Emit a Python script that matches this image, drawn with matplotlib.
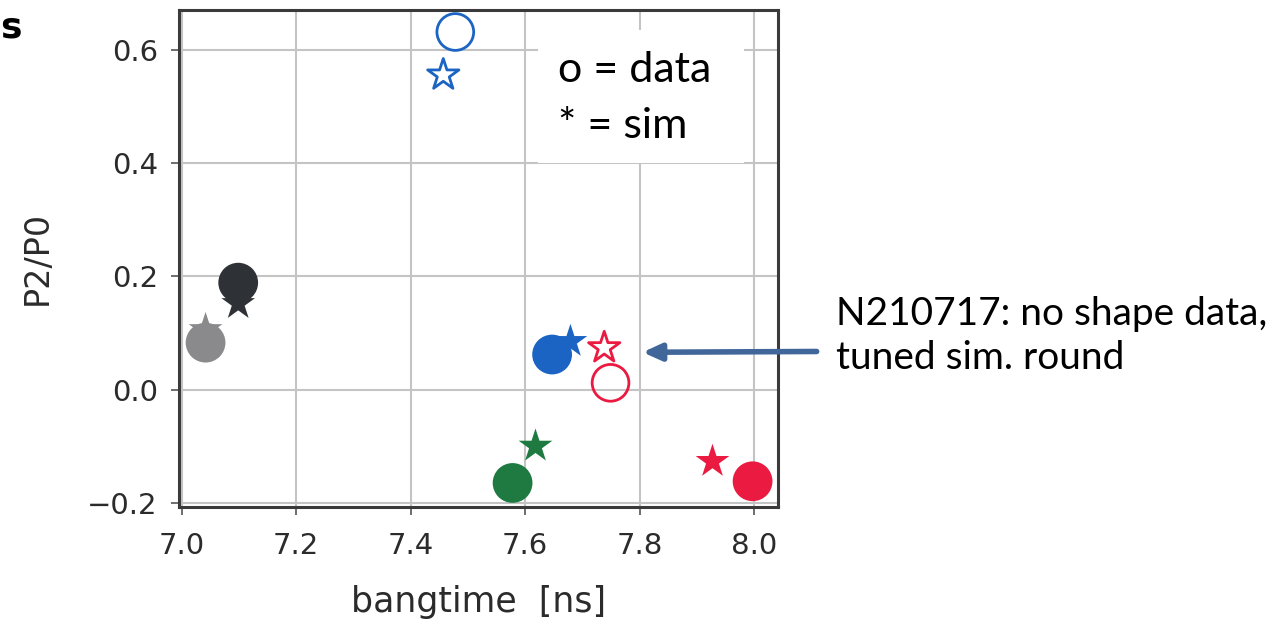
import numpy as np
import matplotlib
matplotlib.use("Agg")
import matplotlib.pyplot as plt
from matplotlib.patches import Rectangle

# shot colours
colors = ['#8a8a8c', '#2e3236', '#1c64c4', '#1e7a40', '#ea1a40']

# measured (o) and simulated (*) values per shot
bt_data = [7.042, 7.099, 7.647, 7.578, 7.997]
p2_data = [0.083, 0.189, 0.062, -0.165, -0.162]
bt_sim = [7.042, 7.099, 7.679, 7.618, 7.927]
p2_sim = [0.106, 0.152, 0.085, -0.100, -0.127]

# shots drawn with open markers
open_color = ['#1c64c4', '#ea1a40']
open_bt_data = [7.478, 7.749]
open_p2_data = [0.632, 0.012]
open_bt_sim = [7.457, 7.738]
open_p2_sim = [0.556, 0.074]

xticks = [7.0, 7.2, 7.4, 7.6, 7.8, 8.0]
yticks = [-0.2, 0.0, 0.2, 0.4, 0.6]

fig = plt.figure(figsize=(12.76, 6.21), dpi=100)
ax = fig.add_axes([0.140, 0.184, 0.470, 0.800])

ax.scatter(bt_sim, p2_sim, marker='*', s=650, c=colors, zorder=3, linewidths=0)
ax.scatter(bt_data, p2_data, marker='o', s=820, c=colors, zorder=4, linewidths=0)
ax.scatter(open_bt_sim, open_p2_sim, marker='*', s=560, facecolors='white',
           edgecolors=open_color, linewidths=2, zorder=3)
ax.scatter(open_bt_data, open_p2_data, marker='o', s=700, facecolors='none',
           edgecolors=open_color, linewidths=2, zorder=3)

ax.set_xlim(6.995, 8.042)
ax.set_ylim(-0.207, 0.671)
ax.set_xticks(xticks)
ax.set_yticks(yticks)
ax.set_xticklabels(['%.1f' % v for v in xticks])
ax.set_yticklabels([('\u22120.2' if v < 0 else '%.1f' % v) for v in yticks])
ax.grid(True, color='#c4c4c4', linewidth=1.5)
ax.set_axisbelow(True)
for sp in ax.spines.values():
    sp.set_color('#3a3a3a')
    sp.set_linewidth(2.2)
ax.tick_params(direction='out', length=6, width=1.2, color='#555555',
               labelsize=21, labelcolor='#2b2b2b')
ax.tick_params(axis='x', pad=12)
ax.tick_params(axis='y', pad=9)

ax.set_xlabel('bangtime  [ns]', fontsize=25, color='#2b2b2b', labelpad=18)
ax.set_ylabel('P2/P0', fontsize=24, color='#2b2b2b', labelpad=24)

# legend box inside the axes
ax.add_patch(Rectangle((0.599, 0.692), 0.343, 0.268, transform=ax.transAxes,
                       facecolor='white', edgecolor='none', zorder=2))
ax.text(0.633, 0.855, 'o = data', transform=ax.transAxes, family='Lato',
        fontsize=31, color='black', va='baseline', ha='left', zorder=5)
ax.text(0.633, 0.742, '* = sim', transform=ax.transAxes, family='Lato',
        fontsize=31, color='black', va='baseline', ha='left', zorder=5)

# note on the right
fig.text(0.655, 0.4767, 'N210717: no shape data,', family='Lato',
         fontsize=28, color='black', va='baseline', ha='left')
fig.text(0.655, 0.406, 'tuned sim. round', family='Lato',
         fontsize=28, color='black', va='baseline', ha='left')
ax.annotate('', xy=(7.805, 0.066), xycoords='data',
            xytext=(0.640, 0.434), textcoords='figure fraction',
            arrowprops=dict(arrowstyle='-|>,head_length=1.1,head_width=0.5',
                            color='#41679a', lw=4, shrinkA=0, shrinkB=0),
            annotation_clip=False)

fig.text(0.0, 0.955, 's', fontsize=26, fontweight='bold', color='black',
         ha='left', va='center')

fig.savefig('out.png', dpi=100)
